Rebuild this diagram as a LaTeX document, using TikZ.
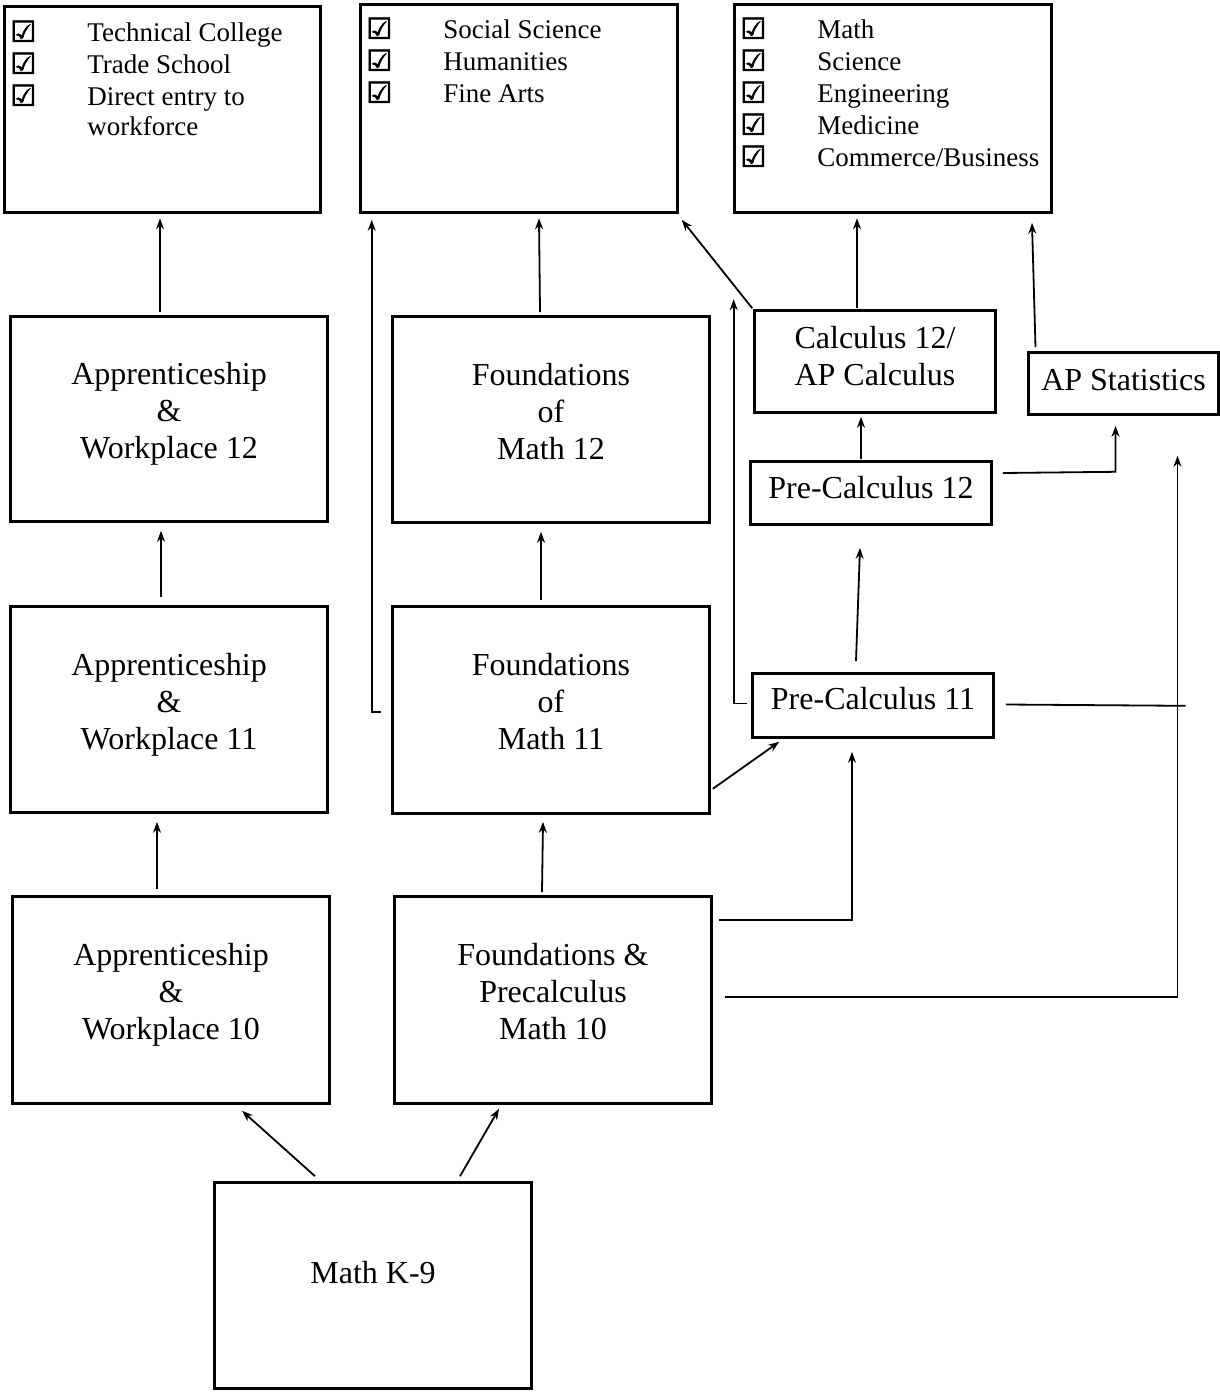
\documentclass[tikz,border=0pt]{standalone}
\usepackage{fontspec}
\setmainfont{Liberation Serif}
\newfontfamily\boxfont[FakeBold=2.5]{DejaVu Sans}
\usetikzlibrary{arrows.meta}
\usetikzlibrary{calc}

\newcommand{\chk}{{\boxfont\fontsize{29}{32}\selectfont ☑}}

\tikzset{
  course/.style={draw, line width=2.6pt, inner sep=0pt, align=center,
    font=\fontsize{32}{37}\selectfont, text depth=17pt},
  dest/.style={draw, line width=2.6pt, inner sep=0pt},
  checklist/.style={anchor=north west, inner sep=0pt, font=\fontsize{27}{32}\selectfont},
  arr/.style={line width=1.8pt, -{Stealth[length=11pt,width=8pt]}},
  plain/.style={line width=1.8pt}
}

\begin{document}
\begin{tikzpicture}[x=1pt, y=-1pt]
            \useasboundingbox (0,0) rectangle (1220,1392);

            % Destinations
            \node[dest, minimum width=316, minimum height=206] (dest1) at (162.5,109.5) {};
            \node[dest, minimum width=317, minimum height=208] (dest2) at (519,108.5) {};
            \node[dest, minimum width=317, minimum height=208] (dest3) at (893,108.5) {};

            \node[checklist] (list1) at ($(dest1.north west)+(7,14)$) {%
              \begin{tabular}{@{}p{77pt}@{}l@{}}
                \chk & Technical College\\
                \chk & Trade School\\
                \chk & Direct entry to\\[-2pt]
                     & workforce
              \end{tabular}};
            \node[checklist] (list2) at ($(dest2.north west)+(7,13)$) {%
              \begin{tabular}{@{}p{77pt}@{}l@{}}
                \chk & Social Science\\
                \chk & Humanities\\
                \chk & Fine Arts
              \end{tabular}};
            \node[checklist] (list3) at ($(dest3.north west)+(7,13)$) {%
              \begin{tabular}{@{}p{77pt}@{}l@{}}
                \chk & Math\\
                \chk & Science\\
                \chk & Engineering\\
                \chk & Medicine\\
                \chk & Commerce/Business
              \end{tabular}};

            % Grade 12
            \node[course, minimum width=317, minimum height=205] (app12) at (169,419) {Apprenticeship\\\&\\Workplace 12};
            \node[course, minimum width=317, minimum height=206] (fnd12) at (551,419.5) {Foundations\\of\\Math 12};
            \node[course, minimum width=241, minimum height=102, text depth=12pt] (calc) at (875,361.5) {Calculus 12/\\AP Calculus};
            \node[course, minimum width=190, minimum height=62, text depth=8pt] (apstat) at (1123.5,383.5) {AP Statistics};
            \node[course, minimum width=241, minimum height=63, text depth=12pt] (pre12) at (871,493) {Pre-Calculus 12};

            % Grade 11
            \node[course, minimum width=317, minimum height=206] (app11) at (169,709.5) {Apprenticeship\\\&\\Workplace 11};
            \node[course, minimum width=317, minimum height=207] (fnd11) at (551,710) {Foundations\\of\\Math 11};
            \node[course, minimum width=241, minimum height=64, text depth=14pt] (pre11) at (873,705.5) {Pre-Calculus 11};

            % Grade 10 and K-9
            \node[course, minimum width=317, minimum height=207] (app10) at (171,1000) {Apprenticeship\\\&\\Workplace 10};
            \node[course, minimum width=317, minimum height=207] (fnd10) at (553,1000) {Foundations \&\\Precalculus\\Math 10};
            \node[course, minimum width=317, minimum height=206, text depth=26pt] (k9) at (373,1285.5) {Math K-9};

            % Pathways
            \draw[arr] ($(app12.north)+(-9,-3)$) -- ($(dest1.south)+(-2.5,4.5)$);
            \draw[arr] ($(fnd12.north)+(-11,-3)$) -- ($(dest2.south)+(20,4.5)$);
            \draw[arr] ($(calc.north)+(-18,-1)$) -- ($(dest3.south)+(-36,4.5)$);
            \draw[arr] ($(calc.north west)+(-1,-1)$) -- ($(dest2.south east)+(3,6)$);
            \draw[arr] ($(apstat.north)+(-88,-4)$) -- ($(dest3.south)+(139,9)$);
            \draw[arr] ($(pre12.north)+(-10,-1)$) -- ($(calc.south)+(-14,3)$);
            \draw[arr] ($(pre12.east)+(10,-20)$) -- ($(apstat.south)+(-8,56)$) -- ($(apstat.south)+(-8,10)$);
            \draw[arr] ($(pre11.north)+(-17,-11)$) -- ($(pre12.south)+(-11,22)$);
            \draw[arr] ($(app11.north)+(-8,-8)$) -- ($(app12.south)+(-8,8)$);
            \draw[arr] ($(fnd11.north)+(-10,-5)$) -- ($(fnd12.south)+(-10,8)$);
            \draw[arr] ($(fnd11.west)+(-10,2)$) -| ($(dest2.south west)+(12.5,6)$);
            \draw[arr] ($(pre11.west)+(-4,-2)$) -| ($(calc.north west)+(-19.5,-10)$);
            \draw[arr] ($(fnd11.south east)+(2,-26)$) -- ($(pre11.south west)+(28,3)$);
            \draw[plain] ($(pre11.east)+(11,-1)$) -- ($(apstat.south)+(62,290)$);
            \draw[arr] ($(fnd10.east)+(12,-3)$) -| ($(apstat.south)+(54,40)$);
            \draw[arr] ($(fnd10.east)+(6,-80)$) -| ($(pre11.south)+(-21,13)$);
            \draw[arr] ($(app10.north)+(-14,-6)$) -- ($(app11.south)+(-12,8)$);
            \draw[arr] ($(fnd10.north)+(-11,-3)$) -- ($(fnd11.south)+(-8,7)$);
            \draw[arr] ($(k9.north)+(-58,-5)$) -- ($(app10.south)+(71,6)$);
            \draw[arr] ($(k9.north)+(87,-5)$) -- ($(fnd10.south)+(-54,4)$);
        \end{tikzpicture}
\end{document}
